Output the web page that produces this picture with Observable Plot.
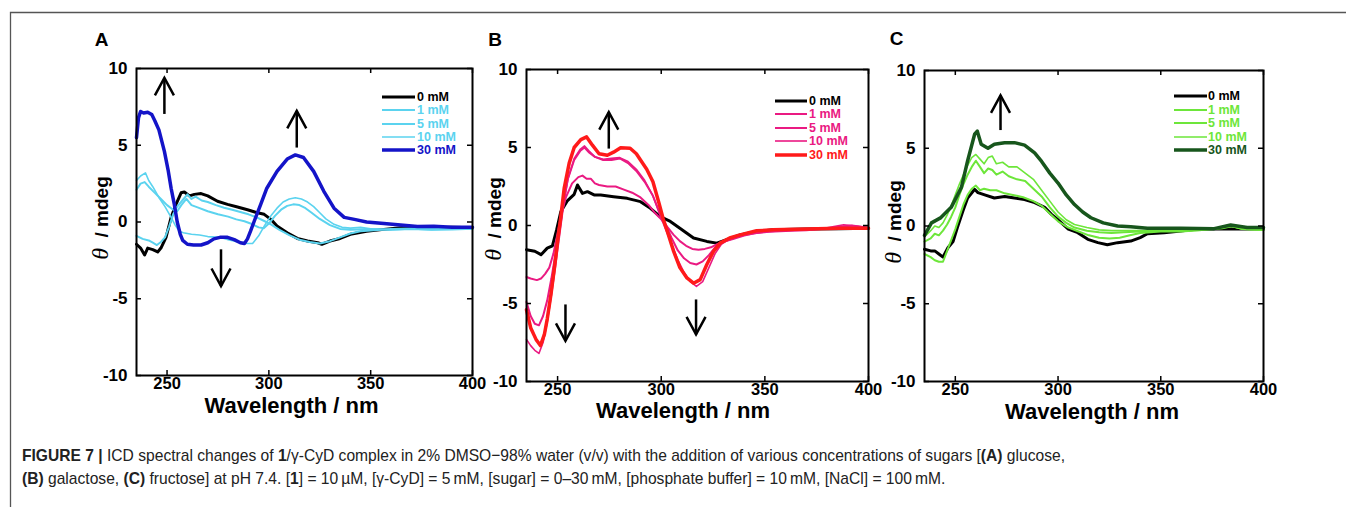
<!DOCTYPE html>
<html><head><meta charset="utf-8">
<script src="https://cdn.jsdelivr.net/npm/d3@7"></script>
<script src="https://cdn.jsdelivr.net/npm/@observablehq/plot@0.6"></script>
<style>
html,body{margin:0;padding:0;background:#fff;}
#fig{position:relative;width:1346px;height:507px;overflow:hidden;font-family:"Liberation Sans",Arial,sans-serif;color:#000;}
.abs{position:absolute;line-height:1;white-space:nowrap;}
.ctr{transform:translate(-50%,-50%);}
.letter{font-weight:bold;font-size:19px;}
.ylab{font-size:19px;font-weight:bold;transform:translate(-50%,-50%) rotate(-90deg);}
.ylab i{font-family:"Liberation Serif",serif;font-weight:normal;font-size:24px;}
.xlab{font-size:22px;font-weight:bold;line-height:0.8;}
.leg{font-size:12.5px;font-weight:bold;transform:translateY(-50%);}
#cap{position:absolute;left:22px;top:444px;font-family:"Liberation Sans",Arial,sans-serif;font-size:17px;line-height:23px;color:#222;white-space:nowrap;}
#cap .ln{display:block;transform-origin:0 50%;width:max-content;}
</style>
</head><body>
<div id="fig"></div>
<script>
// ---------------- data ----------------
const xTicks = [250, 300, 350, 400];
const yTicks = [-10, -5, 0, 5, 10];
const seriesLabels = ["0 mM", "1 mM", "5 mM", "10 mM", "30 mM"];
const panelLetters = ["A", "B", "C"];

// Panel A (glucose): [wavelength nm, theta mdeg]
const a0 = [[235,-1.45],[237,-1.7],[239,-2.15],[240.5,-1.7],[243,-1.8],[245.4,-1.95],[247,-1.7],[249.5,-1.0],[252,0.3],[254.4,1.15],[256.9,1.9],[258.5,1.95],[261,1.7],[263.4,1.8],[266.7,1.85],[270,1.7],[274.8,1.35],[279.7,1.15],[284.6,0.98],[289.5,0.8],[294.4,0.6],[297.7,0.5],[301,0.17],[304,-0.26],[309,-0.7],[314,-1.07],[319,-1.24],[324,-1.35],[326,-1.45],[330,-1.24],[335,-1.07],[340,-0.8],[348,-0.6],[356.5,-0.48],[364.7,-0.37],[373,-0.3],[381,-0.37],[390,-0.35],[400,-0.37]];
const a1 = [[235,-0.9],[238,-1.1],[241,-1.2],[243,-1.35],[245,-1.5],[247,-1.3],[249,-1.0],[251,-0.3],[253,0.5],[255,1.0],[257.5,1.4],[260,1.8],[262,1.5],[264,1.65],[267,1.4],[270,1.3],[274,1.1],[278,0.93],[282,0.8],[286,0.65],[290,0.5],[294,0.3],[298,0.05],[301,-0.15],[305,-0.5],[310,-0.85],[315,-1.15],[320,-1.3],[325,-1.4],[330,-1.25],[335,-1.0],[340,-0.75],[345,-0.6],[350,-0.55],[360,-0.45],[370,-0.42],[380,-0.45],[390,-0.45],[400,-0.45]];
const a5 = [[235,2.1],[237,2.5],[239,2.6],[241,2.3],[244,1.9],[247,1.5],[250,1.1],[253,0.8],[255,0.7],[257,1.1],[259.5,1.5],[262,1.1],[265,0.95],[270,0.7],[275,0.5],[280,0.35],[284,0.17],[288,0.05],[292,-0.15],[295,-0.35],[297.5,-0.4],[300,-0.1],[303,0.4],[306,0.8],[309,1.05],[312,1.15],[315,1.1],[318,0.9],[321,0.6],[325,0.2],[330,-0.2],[335,-0.45],[340,-0.5],[350,-0.45],[360,-0.5],[370,-0.45],[380,-0.5],[390,-0.45],[400,-0.45]];
const a10 = [[235,2.7],[237,3.0],[239.4,3.2],[241,2.7],[243,2.3],[246,1.6],[249,1.0],[252,0.3],[254,-0.2],[256,-0.6],[258,-0.7],[262,-0.8],[266,-0.85],[270,-0.95],[276,-1.0],[280,-1.15],[285,-1.3],[289,-1.4],[292,-1.4],[295,-0.9],[298,-0.2],[301,0.4],[304,0.9],[307,1.3],[310,1.5],[313,1.58],[316,1.5],[319,1.3],[322,1.0],[325,0.6],[328,0.2],[332,-0.15],[336,-0.35],[340,-0.4],[345,-0.35],[350,-0.45],[360,-0.5],[370,-0.45],[380,-0.5],[390,-0.5],[400,-0.45]];
const a30 = [[235,5.5],[236,6.8],[237,7.2],[238.5,7.1],[240.5,7.15],[242.5,7.0],[244,6.6],[246,6.0],[248.7,4.6],[250.5,3.4],[252,2.2],[253.5,1.2],[255,0.0],[256.5,-0.8],[257.7,-1.2],[260,-1.45],[263,-1.5],[266.7,-1.5],[270,-1.35],[273,-1.1],[276,-1.0],[279.7,-1.0],[283,-1.15],[286,-1.35],[288,-1.4],[289.5,-1.1],[291,-0.6],[292.8,0.05],[296,1.15],[299,2.2],[304,3.3],[309,4.1],[313,4.37],[317,4.2],[322,3.3],[327,2.0],[332,0.9],[337,0.3],[342,0.17],[348,0.0],[356.5,-0.1],[364.7,-0.2],[373,-0.3],[381,-0.28],[390,-0.35],[400,-0.35]];

// Panel B (galactose)
const b0 = [[235,-1.55],[239,-1.65],[242,-1.87],[245,-1.45],[247.5,-1.3],[249.5,-0.3],[251.6,0.9],[254.8,1.6],[258,2.0],[259.6,2.6],[262,2.06],[264.4,2.17],[267.6,1.96],[270.8,1.96],[277,1.85],[283.6,1.74],[290,1.53],[294.8,1.1],[299.5,0.57],[304.4,0.26],[309,-0.17],[315.6,-0.8],[322,-1.02],[326.8,-1.13],[331.6,-0.91],[338,-0.6],[346,-0.38],[354,-0.28],[370,-0.23],[386,-0.21],[400,-0.17]];
const b1 = [[235,-3.3],[237,-3.4],[240,-3.5],[242,-3.4],[244,-3.1],[246,-2.7],[248,-1.8],[250,-0.5],[252,0.8],[254,1.8],[257,2.7],[260,3.1],[262,3.2],[264,3.0],[266,3.0],[268,2.7],[270,2.6],[274,2.5],[278,2.5],[282,2.3],[286,2.1],[290,1.8],[294,1.3],[297,0.8],[300,0.4],[303,-0.1],[306,-0.6],[309,-1.0],[312,-1.3],[315,-1.5],[318,-1.55],[321,-1.5],[324,-1.4],[327,-1.2],[330,-1.05],[335,-0.85],[340,-0.65],[345,-0.5],[350,-0.4],[360,-0.3],[370,-0.25],[380,-0.2],[390,-0.1],[400,-0.2]];
const b5 = [[235,-4.9],[237,-5.8],[239,-6.3],[241,-6.4],[243,-5.8],[245,-4.8],[247,-3.4],[249,-1.8],[251,-0.2],[253,1.6],[255,3.0],[258,4.2],[261,4.8],[263,5.0],[265,4.7],[268,4.4],[272,4.2],[276,4.2],[280,4.3],[284,4.0],[288,3.5],[292,2.8],[296,1.9],[299,0.9],[302,0.1],[305,-0.8],[308,-1.6],[311,-2.1],[314,-2.4],[317,-2.5],[320,-2.3],[323,-1.9],[326,-1.4],[329,-1.1],[333,-0.9],[338,-0.65],[345,-0.5],[352,-0.4],[360,-0.35],[370,-0.3],[380,-0.2],[388,-0.05],[392,0.0],[400,-0.15]];
const b10 = [[235,-7.3],[237,-7.7],[239,-8.0],[241,-8.2],[243,-7.5],[245,-6.2],[247,-4.5],[249,-2.6],[251,-0.6],[253,1.4],[255,3.0],[258,4.3],[261,4.9],[263,5.1],[265,4.8],[268,4.4],[272,4.25],[276,4.3],[280,4.35],[284,4.1],[288,3.6],[292,2.9],[296,1.9],[299,0.8],[302,-0.2],[305,-1.2],[308,-2.2],[311,-3.0],[314,-3.6],[317,-3.9],[320,-3.6],[323,-2.7],[326,-1.8],[329,-1.2],[333,-0.85],[338,-0.6],[345,-0.45],[352,-0.35],[360,-0.3],[370,-0.25],[380,-0.15],[388,0.05],[395,-0.05],[400,-0.15]];
const b30 = [[235,-5.4],[237,-6.55],[239.6,-7.3],[241.7,-7.7],[243.6,-7.0],[245,-6.0],[246.8,-4.4],[248.5,-2.7],[250,-1.0],[251.5,0.5],[253.2,2.4],[255.6,4.0],[258,5.0],[261.2,5.5],[264,5.68],[266.8,5.15],[270,4.6],[274,4.5],[277,4.7],[280.4,4.98],[285,4.95],[288,4.6],[290,4.2],[293,3.6],[296,2.8],[299,1.4],[301,0.4],[303,-0.4],[306,-1.66],[309,-2.7],[312.4,-3.36],[315.6,-3.7],[318.8,-3.47],[322,-2.5],[325.2,-1.66],[328.4,-1.13],[333,-0.8],[338,-0.6],[346,-0.34],[354,-0.28],[370,-0.23],[386,-0.17],[400,-0.17]];

// Panel C (fructose)
const c0 = [[235,-1.5],[238,-1.6],[240,-1.6],[242,-1.8],[244,-2.0],[246.4,-1.4],[248.9,-1.0],[251,-0.1],[253.7,0.97],[256,1.8],[259.4,2.36],[261,2.15],[264.3,2.0],[269,1.8],[274,1.9],[278.8,1.8],[283.7,1.7],[288.6,1.5],[293.5,1.2],[296.8,0.75],[300,0.4],[305,-0.2],[309.6,-0.43],[314.5,-0.86],[319.4,-1.07],[324,-1.2],[329,-1.07],[335.4,-0.97],[340,-0.75],[343.5,-0.5],[351.6,-0.43],[359.7,-0.32],[367.8,-0.2],[376,-0.2],[384,-0.17],[392,-0.2],[400,-0.2]];
const c1 = [[235,-1.8],[238,-2.0],[240,-2.2],[242,-2.3],[244,-2.3],[246,-1.6],[248,-0.9],[250,-0.2],[252,0.6],[254,1.4],[256,2.0],[258,2.4],[260,2.6],[262,2.3],[264,2.4],[267,2.3],[270,2.3],[274,2.1],[278,2.0],[283,1.85],[288,1.6],[292,1.3],[296,0.8],[300,0.3],[305,-0.1],[310,-0.35],[315,-0.6],[320,-0.75],[325,-0.8],[330,-0.75],[335,-0.6],[340,-0.45],[350,-0.35],[360,-0.35],[370,-0.25],[380,-0.15],[385,0.0],[390,-0.2],[400,-0.25]];
const c5 = [[235,-1.0],[238,-0.8],[240,-0.5],[242,-0.6],[244,-0.3],[246,0.1],[248,0.6],[250,1.2],[252,2.0],[254,2.7],[256,3.3],[258,3.8],[260,4.2],[262,3.8],[264,3.4],[266,3.7],[268,3.6],[270,3.3],[273,3.5],[276,3.2],[280,3.0],[284,2.9],[288,2.4],[292,1.9],[296,1.2],[300,0.6],[304,0.2],[308,-0.1],[314,-0.3],[320,-0.4],[326,-0.45],[332,-0.4],[340,-0.35],[350,-0.3],[360,-0.3],[370,-0.25],[380,-0.1],[384,0.0],[390,-0.2],[400,-0.25]];
const c10 = [[235,-0.7],[238,-0.3],[240,0.0],[242,-0.1],[244,0.2],[246,0.7],[248,1.3],[250,2.0],[252,2.7],[254,3.3],[256,3.9],[258,4.4],[260,4.6],[262,4.3],[264,4.0],[266,4.4],[268,4.5],[270,4.0],[273,4.1],[276,3.8],[280,3.8],[284,3.4],[288,3.0],[292,2.3],[296,1.6],[300,0.9],[304,0.4],[308,0.1],[314,-0.1],[320,-0.25],[326,-0.3],[332,-0.3],[340,-0.3],[350,-0.3],[360,-0.3],[370,-0.25],[380,-0.1],[384,0.0],[390,-0.2],[400,-0.2]];
const c30 = [[235,-0.6],[238.4,0.2],[243,0.54],[248,1.2],[253,2.5],[256,4.2],[259.4,5.9],[260.7,6.1],[262.6,5.26],[265.9,5.0],[269,5.26],[274,5.36],[278.8,5.36],[283.7,5.2],[288.6,4.7],[292,4.15],[296,3.4],[300,2.76],[304,2.0],[308,1.38],[312,0.9],[316,0.53],[322,0.2],[329,0.0],[335.4,-0.05],[343.5,-0.15],[359.7,-0.15],[376,-0.17],[384,0.06],[392,-0.1],[400,-0.1]];

// Arrow annotations (data units): x, tail y1, tip y2
const arrowsA = [{x:248.7,y1:7.04,y2:9.39},{x:313.7,y1:4.85,y2:7.24},{x:276.5,y1:-1.78,y2:-4.17}];
const arrowsB = [{x:274.7,y1:4.93,y2:7.27},{x:253.8,y1:-5.06,y2:-7.4},{x:316.8,y1:-4.74,y2:-6.98}];
const arrowsC = [{x:272,y1:6.17,y2:8.4}];

// ---------------- styles / layout ----------------
const colorsA = ["#000000","#5bd3ef","#5bd3ef","#5bd3ef","#1414c8"];
const colorsB = ["#000000","#ea1a82","#ea1a82","#ea1a82","#ff1a1a"];
const colorsC = ["#000000","#6de63a","#6de63a","#6de63a","#17561c"];
const widths = [3, 2, 2, 1.6, 3.5];

const panels = [
  {series:[a0,a1,a5,a10,a30], colors:colorsA, arrows:arrowsA,
   frame:{l:136,r:472,t:68,b:375}, letter:[101.5,38.5], ylab:[100,218], xlab:[291.5,406],
   legend:{x1:382,x2:415,tx:417,rows:[97,110,123.5,136.5,150]}},
  {series:[b0,b1,b5,b10,b30], colors:colorsB, arrows:arrowsB,
   frame:{l:526,r:868,t:69,b:381}, letter:[495,38.5], ylab:[493,219], xlab:[683,411],
   legend:{x1:775,x2:807,tx:809,rows:[101,114,128,141,155]}},
  {series:[c0,c1,c5,c10,c30], colors:colorsC, arrows:arrowsC,
   frame:{l:924,r:1263,t:70,b:381}, letter:[896.5,38], ylab:[893,222], xlab:[1092,412],
   legend:{x1:1174,x2:1207,tx:1208,rows:[96,110,123,137,150]}}
];

const chevronUp = {draw(ctx, size){const r=Math.sqrt(size/Math.PI);ctx.moveTo(-0.95*r,1.75*r);ctx.lineTo(0,0);ctx.lineTo(0.95*r,1.75*r);}};
const chevronDown = {draw(ctx, size){const r=Math.sqrt(size/Math.PI);ctx.moveTo(-0.95*r,-1.75*r);ctx.lineTo(0,0);ctx.lineTo(0.95*r,-1.75*r);}};

const fig = document.getElementById("fig");
function addDiv(html, cls, x, y) {
  const d = document.createElement("div");
  d.className = "abs " + cls;
  d.style.left = x + "px"; d.style.top = y + "px";
  d.innerHTML = html; fig.appendChild(d); return d;
}

// outer figure border (top + left)
const border = document.createElementNS("http://www.w3.org/2000/svg","svg");
border.setAttribute("width",1346); border.setAttribute("height",507);
border.style.position="absolute"; border.style.left="0"; border.style.top="0";
border.innerHTML = '<path d="M10.5,507V12.5H1346" fill="none" stroke="#555" stroke-width="1.3"/>';
fig.appendChild(border);

const mL = 50, mR = 14, mT = 14, mB = 40;
panels.forEach((p, pi) => {
  const W = p.frame.r - p.frame.l, H = p.frame.b - p.frame.t;
  const rows = [];
  p.series.forEach((s, si) => s.forEach(([wl, th]) => rows.push({wl, th, si})));
  const marks = [];
  p.series.forEach((s, si) => {
    marks.push(Plot.line(rows.filter(d => d.si === si), {x:"wl", y:"th", stroke:p.colors[si], strokeWidth:widths[si], strokeLinejoin:"round"}));
  });
  const ups = p.arrows.filter(a => a.y2 > a.y1), downs = p.arrows.filter(a => a.y2 < a.y1);
  marks.push(
    Plot.link(p.arrows, {x1:"x", x2:"x", y1:"y1", y2:"y2", stroke:"black", strokeWidth:2.5}),
    Plot.dot(ups, {x:"x", y:"y2", symbol:chevronUp, r:10, fill:"none", stroke:"black", strokeWidth:2.5, strokeLinejoin:"miter"}),
    Plot.dot(downs, {x:"x", y:"y2", symbol:chevronDown, r:10, fill:"none", stroke:"black", strokeWidth:2.5, strokeLinejoin:"miter"}),
    Plot.tickY(yTicks, {y:d=>d, insetRight:W-5, stroke:"black", strokeWidth:1.5}),
    Plot.tickY(yTicks, {y:d=>d, insetLeft:W-5, stroke:"black", strokeWidth:1.5}),
    Plot.tickX(xTicks, {x:d=>d, insetTop:H-5, stroke:"black", strokeWidth:1.5}),
    Plot.tickX(xTicks, {x:d=>d, insetBottom:H-5, stroke:"black", strokeWidth:1.5}),
    Plot.frame({stroke:"black", strokeWidth:2}),
    Plot.axisX(xTicks, {tickSize:0, tickPadding:2, label:null, tickFormat:d=>String(d), fontSize:16.5, fontWeight:"bold"}),
    Plot.axisY(yTicks, {tickSize:0, tickPadding:9, label:null, tickFormat:d=>String(d), fontSize:17, fontWeight:"bold"})
  );
  const svg = Plot.plot({
    width: W + mL + mR, height: H + mT + mB,
    marginLeft: mL, marginRight: mR, marginTop: mT, marginBottom: mB,
    x: {domain:[235, 400]}, y: {domain:[-10, 10]},
    style: {fontFamily:'"Liberation Sans", Arial, sans-serif', fontSize:"17px", fontWeight:"bold", color:"#000", background:"none", overflow:"visible"},
    marks
  });
  svg.style.position = "absolute";
  svg.style.left = (p.frame.l - mL) + "px";
  svg.style.top = (p.frame.t - mT) + "px";
  fig.appendChild(svg);

  addDiv(panelLetters[pi], "ctr letter", p.letter[0], p.letter[1]);
  addDiv("<i>θ</i>&nbsp; /&nbsp;mdeg", "ylab", p.ylab[0], p.ylab[1]);
  addDiv("Wavelength / nm", "ctr xlab", p.xlab[0], p.xlab[1]);

  // legend
  const lg = p.legend;
  seriesLabels.forEach((lab, si) => {
    const y = lg.rows[si];
    const ls = document.createElementNS("http://www.w3.org/2000/svg","svg");
    ls.setAttribute("width", lg.x2 - lg.x1); ls.setAttribute("height", 8);
    ls.style.position = "absolute"; ls.style.left = lg.x1 + "px"; ls.style.top = (y - 4) + "px";
    ls.innerHTML = `<line x1="0" x2="${lg.x2 - lg.x1}" y1="4" y2="4" stroke="${p.colors[si]}" stroke-width="${widths[si]}"/>`;
    fig.appendChild(ls);
    const t = addDiv(lab, "leg", lg.tx, y);
    t.style.color = p.colors[si];
  });
});

// caption
const cap = document.createElement("div");
cap.id = "cap";
cap.innerHTML = '<span class="ln" id="cl1"><b>FIGURE 7 |</b> ICD spectral changes of <b>1</b>/γ-CyD complex in 2% DMSO−98% water (v/v) with the addition of various concentrations of sugars [<b>(A)</b> glucose,</span>' +
  '<span class="ln" id="cl2"><b>(B)</b> galactose, <b>(C)</b> fructose] at pH 7.4. [<b>1</b>] = 10\u2009µM, [γ-CyD] = 5\u2009mM, [sugar] = 0–30\u2009mM, [phosphate buffer] = 10\u2009mM, [NaCl] = 100\u2009mM.</span>';
fig.appendChild(cap);
const l1 = document.getElementById("cl1"), l2 = document.getElementById("cl2");
const k = 1043 / l1.getBoundingClientRect().width;
l1.style.transform = `scaleX(${k})`;
l2.style.transform = `scaleX(${k})`;
</script>
</body></html>
